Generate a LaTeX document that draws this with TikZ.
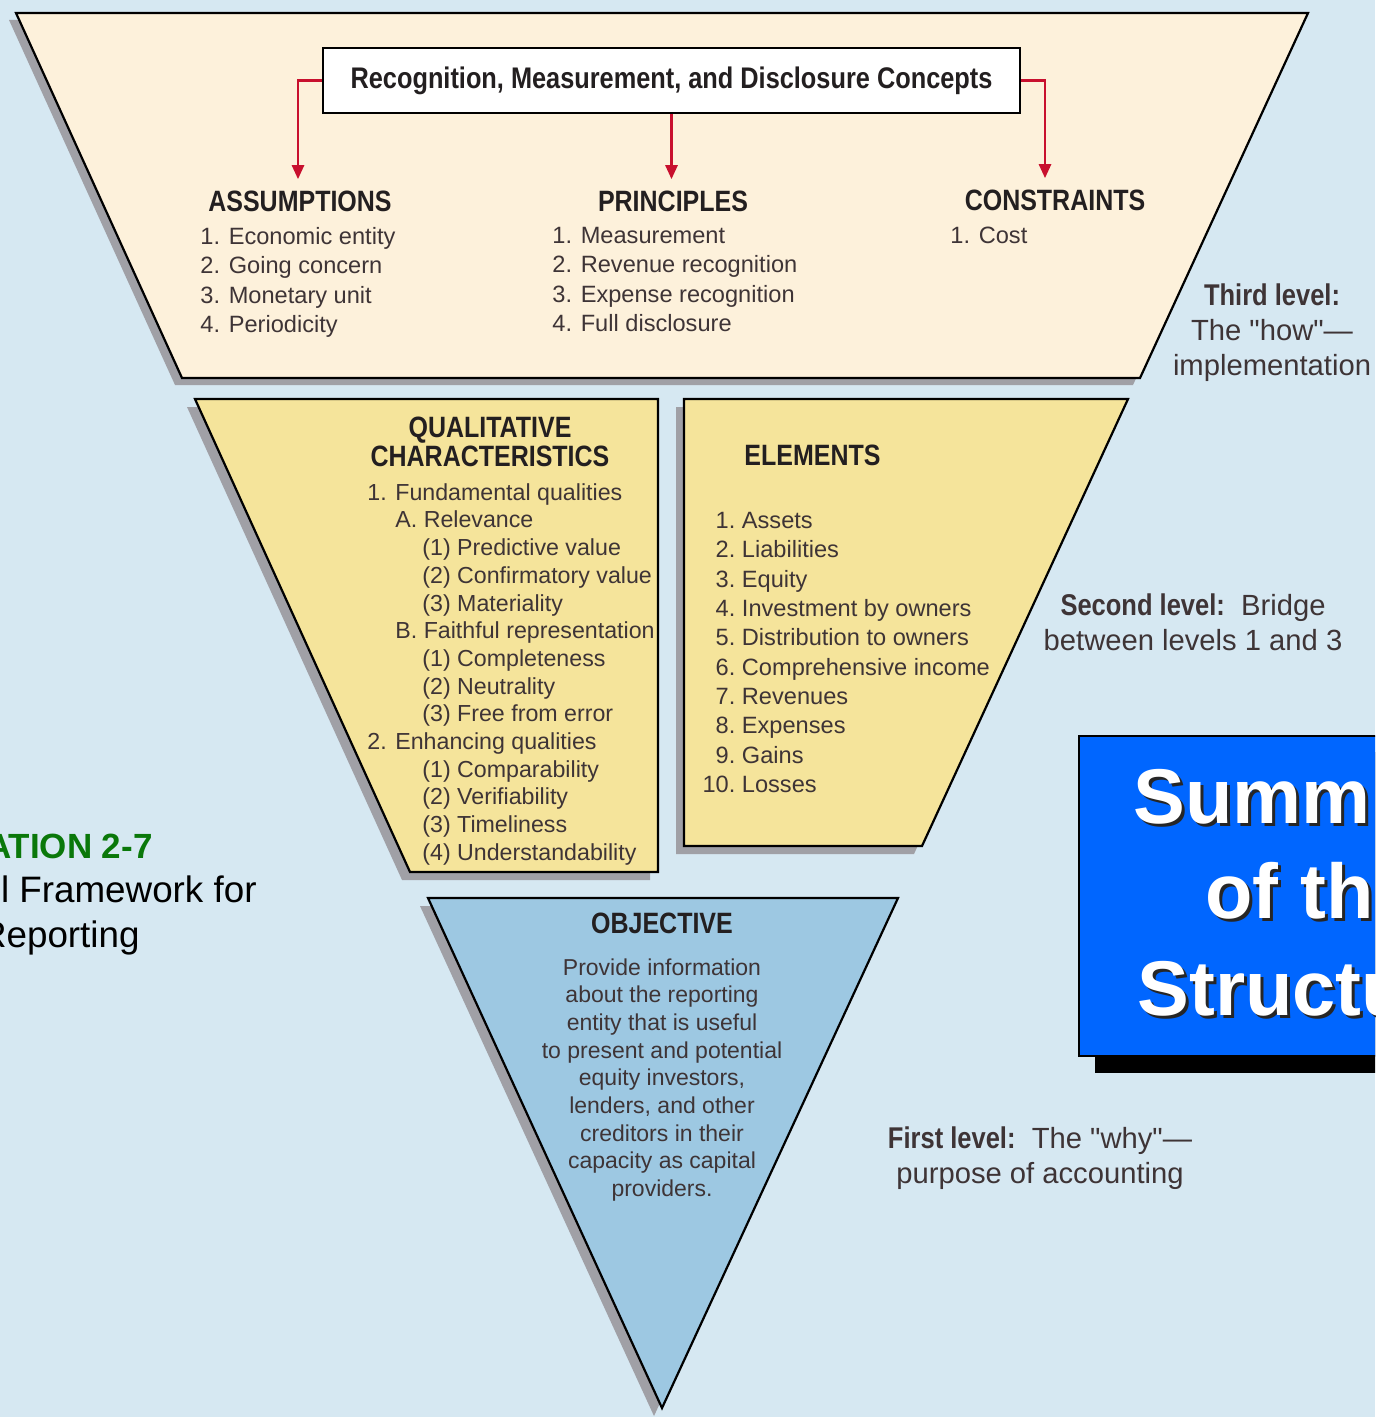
\documentclass[tikz,border=0pt]{standalone}
\usepackage{fontspec}
\setmainfont{Liberation Sans}
\newfontfamily\condfont[FakeStretch=0.85]{Liberation Sans}
\newfontfamily\notefont{Liberation Sans}
\usepackage{tikz}
\usetikzlibrary{positioning, arrows.meta}

\definecolor{bgblue}{RGB}{214,232,242}
\definecolor{cream}{RGB}{253,241,219}
\definecolor{straw}{RGB}{245,228,155}
\definecolor{skyblue}{RGB}{157,200,226}
\definecolor{shadowgray}{RGB}{160,160,166}
\definecolor{arrowred}{RGB}{200,16,46}
\definecolor{ink}{RGB}{35,31,32}
\definecolor{bodyink}{RGB}{62,52,54}
\definecolor{slideblue}{RGB}{0,102,255}
\definecolor{slidegreen}{RGB}{10,120,10}

\newcommand{\elnum}[1]{\makebox[16.5pt][r]{#1}\ }

\begin{document}
\begin{tikzpicture}[x=0.5pt, y=-0.5pt,
    drop/.style={fill=shadowgray},
    level/.style={draw=black, line width=1.1pt},
    head/.style={font=\condfont\bfseries\fontsize{14.7}{14.5}\selectfont, text=ink, align=center, inner sep=1.5pt},
    items/.style={font=\fontsize{11.8}{14.65}\selectfont, text=bodyink, align=left, inner sep=0pt, anchor=north west},
    lvl/.style={font=\notefont\fontsize{14.6}{17.5}\selectfont, text=bodyink, align=center, inner sep=0pt, anchor=north},
    redarrow/.style={draw=arrowred, line width=1.3pt, -{Triangle[width=6pt,length=7pt]}, shorten >=4pt},
    blurb/.style={font=\bfseries\fontsize{38.8}{47.5}\selectfont, anchor=base west, inner sep=0pt}]

\useasboundingbox (0,0) rectangle (1375,1417);
\clip (0,0) rectangle (1375,1417);
\fill[bgblue] (0,0) rectangle (1375,1417);

% third level
\fill[drop, shift={(-7,7)}] (16,13) -- (1308,13) -- (1140,378) -- (182,378) -- cycle;
\draw[level, fill=cream] (16,13) -- (1308,13) -- (1140,378) -- (182,378) -- cycle;

\node[draw=black, line width=1.1pt, fill=white, minimum width=348.5pt, minimum height=32.5pt, inner sep=0pt,
      font=\condfont\bfseries\fontsize{14.9}{16}\selectfont, text=ink] (rmd) at (671.5,80.5)
      {Recognition, Measurement, and Disclosure Concepts};

\node[head] (assum) at (300,201) {ASSUMPTIONS};
\node[head] (princ) at (673,201) {PRINCIPLES};
\node[head] (constr) at (1055,200) {CONSTRAINTS};

\draw[redarrow] (rmd.west) -| ([xshift=-1pt]assum.north);
\draw[redarrow] (rmd.south) -- (rmd.south |- princ.north);
\draw[redarrow] (rmd.east) -| ([xshift=-5pt]constr.north);

\node[items] (assumlist) at (200,227) {1. Economic entity\\2. Going concern\\3. Monetary unit\\4. Periodicity};
\node[items] (princlist) at (552,227) {1. Measurement\\2. Revenue recognition\\3. Expense recognition\\4. Full disclosure};
\node[items] (constrlist) at (950,227) {1. Cost};

% second level
\fill[drop, shift={(-8,8)}] (195,399) -- (658,399) -- (658,872) -- (410,872) -- cycle;
\draw[level, fill=straw] (195,399) -- (658,399) -- (658,872) -- (410,872) -- cycle;
\fill[drop, shift={(-8,8)}] (684,399) -- (1128,399) -- (922,846) -- (684,846) -- cycle;
\draw[level, fill=straw] (684,399) -- (1128,399) -- (922,846) -- (684,846) -- cycle;

\node[head] (qual) at (490,441.5) {QUALITATIVE\\CHARACTERISTICS};
\node[items, font=\fontsize{11.6}{13.85}\selectfont] (quallist) at (367,483) {1. Fundamental qualities\\
  \hspace*{14pt}A. Relevance\\
  \hspace*{27.5pt}(1) Predictive value\\
  \hspace*{27.5pt}(2) Confirmatory value\\
  \hspace*{27.5pt}(3) Materiality\\
  \hspace*{14pt}B. Faithful representation\\
  \hspace*{27.5pt}(1) Completeness\\
  \hspace*{27.5pt}(2) Neutrality\\
  \hspace*{27.5pt}(3) Free from error\\
  2. Enhancing qualities\\
  \hspace*{27.5pt}(1) Comparability\\
  \hspace*{27.5pt}(2) Verifiability\\
  \hspace*{27.5pt}(3) Timeliness\\
  \hspace*{27.5pt}(4) Understandability};

\node[head, anchor=west] (elem) at (741,455.5) {ELEMENTS};
\node[items] (elemlist) at (702,512) {\elnum{1.}Assets\\\elnum{2.}Liabilities\\\elnum{3.}Equity\\
  \elnum{4.}Investment by owners\\\elnum{5.}Distribution to owners\\\elnum{6.}Comprehensive income\\
  \elnum{7.}Revenues\\\elnum{8.}Expenses\\\elnum{9.}Gains\\\elnum{10.}Losses};

% first level
\fill[drop, shift={(-8,8)}] (428,898) -- (898,898) -- (662,1408) -- cycle;
\draw[level, fill=skyblue] (428,898) -- (898,898) -- (662,1408) -- cycle;

\node[head] (obj) at (662,923) {OBJECTIVE};
\node[items, anchor=north, align=center, font=\fontsize{11.5}{13.85}\selectfont] (objtext) at (662,958)
  {Provide information\\about the reporting\\entity that is useful\\to present and potential\\equity investors,\\lenders, and other\\creditors in their\\capacity as capital\\providers.};

% level notes
\node[lvl] (third) at (1272,283) {{\condfont\bfseries\fontsize{15}{17.5}\selectfont Third level:}\\The "how"—\\implementation};
\node[lvl] (second) at (1193,593) {{\condfont\bfseries\fontsize{15}{17.5}\selectfont Second level:}\ \ Bridge\\between levels 1 and 3};
\node[lvl] (first) at (1040,1126) {{\condfont\bfseries\fontsize{15}{17.5}\selectfont First level:}\ \ The "why"—\\purpose of accounting};

% slide box
\fill[black] (1095,752) rectangle (1400,1073);
\filldraw[fill=slideblue, draw=black, line width=1.2pt] (1079,736) rectangle (1400,1056);
\foreach \txt/\xx/\yy [count=\i] in {Summ/1133/823, of th/1205/918, Structu/1137/1015} {
  \node[blurb, text=black!85] (blurbs\i) at (\xx+3,\yy+3) {\txt};
  \node[blurb, text=white] (blurb\i) at (\xx,\yy) {\txt};
}

% slide caption
\node[anchor=base east, inner sep=0pt, font=\bfseries\fontsize{17.5}{20}\selectfont, text=slidegreen] (illus) at (153,858) {ATION 2-7};
\node[anchor=base east, inner sep=0pt, font=\fontsize{18.4}{20}\selectfont, text=black] (frame) at (257,902) {l Framework for};
\node[anchor=base east, inner sep=0pt, font=\fontsize{18.4}{20}\selectfont, text=black] (rep) at (140,947) {Reporting};

\end{tikzpicture}
\end{document}
